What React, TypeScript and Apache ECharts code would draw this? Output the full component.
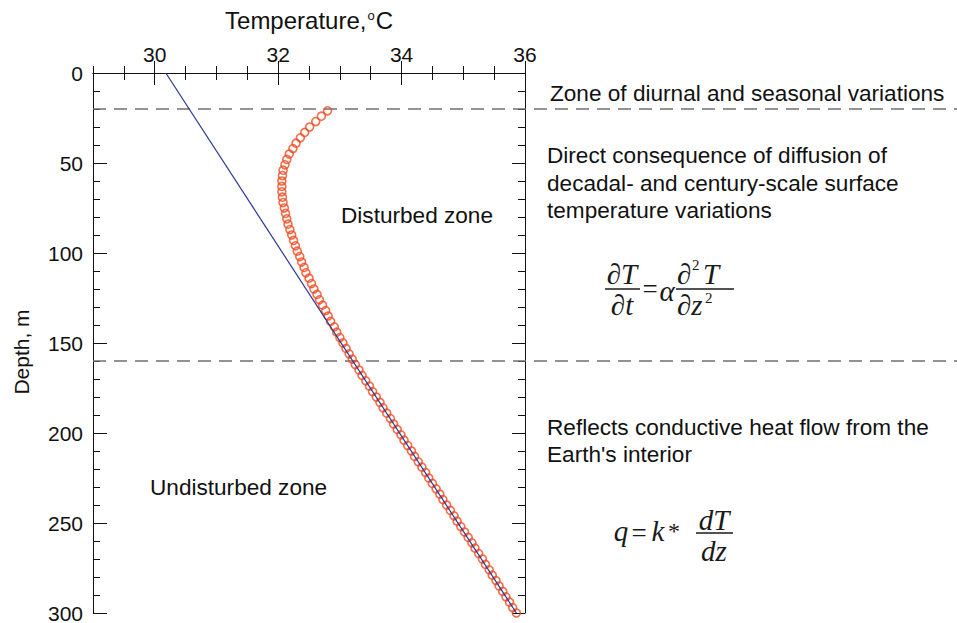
import React, { useEffect, useRef } from "react";
import * as echarts from "echarts";

// Depths (m) of the measured temperature points (red circles)
const depths = [
  21, 24, 27, 30, 33, 36, 39, 42, 45, 48,
  51, 54, 57, 60, 63, 66, 69, 72, 75, 78,
  81, 84, 87, 90, 93, 96, 99, 102, 105, 108,
  111, 114, 117, 120, 123, 126, 129, 132, 135, 138,
  141, 144, 147, 150, 153, 156, 159, 162, 165, 168,
  171, 174, 177, 180, 183, 186, 189, 192, 195, 198,
  201, 204, 207, 210, 213, 216, 219, 222, 225, 228,
  231, 234, 237, 240, 243, 246, 249, 252, 255, 258,
  261, 264, 267, 270, 273, 276, 279, 282, 285, 288,
  291, 294, 297, 300,
];

// Measured temperatures (°C) at those depths
const measuredTemps = [
  32.8, 32.7, 32.61, 32.51, 32.43, 32.36, 32.29, 32.24, 32.18, 32.14,
  32.11, 32.08, 32.07, 32.06, 32.06, 32.06, 32.07, 32.08, 32.1, 32.12,
  32.14, 32.16, 32.19, 32.22, 32.25, 32.28, 32.31, 32.35, 32.38, 32.42,
  32.45, 32.5, 32.54, 32.58, 32.63, 32.67, 32.72, 32.77, 32.81, 32.85,
  32.91, 32.95, 33.0, 33.05, 33.1, 33.15, 33.2, 33.25, 33.31, 33.36,
  33.42, 33.48, 33.53, 33.59, 33.65, 33.7, 33.76, 33.82, 33.87, 33.93,
  33.99, 34.04, 34.1, 34.16, 34.21, 34.27, 34.33, 34.39, 34.44, 34.5,
  34.56, 34.62, 34.67, 34.73, 34.79, 34.85, 34.9, 34.96, 35.02, 35.08,
  35.14, 35.19, 35.25, 35.31, 35.36, 35.42, 35.47, 35.53, 35.58, 35.64,
  35.69, 35.75, 35.8, 35.86,
];

// Undisturbed (conductive) geotherm: end points
const geothermTemps = [30.18, 35.86];
const geothermDepths = [0, 300];

// Zone boundaries (m)
const boundaryDepths = [20, 160];

// Axis ticks
const tempMajorTicks = [30, 32, 34, 36];

export default function App() {
  const ref = useRef<HTMLDivElement>(null);

  useEffect(() => {
    const el = ref.current;
    if (!el) return;
    const chart = echarts.init(el, null, { renderer: "svg" });
    const font = "'Liberation Sans', Arial, Helvetica, sans-serif";
    const serif = "'Liberation Serif', 'Times New Roman', serif";
    const ink = "#111111";

    const axisLineOn = { show: true, lineStyle: { color: ink, width: 1 } };
    const noSplit = { show: false };

    const option: any = {
      animation: false,
      backgroundColor: "#ffffff",
      textStyle: { fontFamily: font, color: ink },
      grid: { left: 93, top: 73, right: 432, bottom: 10, containLabel: false, outerBoundsMode: "none" },
      xAxis: [
        {
          type: "value", position: "top", min: 29, max: 36, interval: 0.5,
          axisLine: axisLineOn,
          axisTick: { inside: true, length: 7, lineStyle: { color: ink } },
          axisLabel: { show: false },
          splitLine: noSplit,
          name: "Temperature,{d|o}C",
          nameLocation: "middle",
          nameGap: 41,
          nameTextStyle: {
            fontSize: 24, color: ink, fontFamily: font,
            rich: { d: { fontSize: 13, color: ink, fontFamily: font, padding: [0, 1, 9, 1] } },
          },
        },
        {
          type: "value", position: "top", min: 29, max: 36,
          axisLine: { show: false },
          axisTick: { inside: true, length: 12, customValues: tempMajorTicks, lineStyle: { color: ink } },
          axisLabel: { customValues: tempMajorTicks, fontSize: 21, color: ink, fontFamily: font, margin: 8 },
          splitLine: noSplit,
        },
        {
          type: "value", position: "bottom", min: 29, max: 36, interval: 0.5,
          axisLine: axisLineOn,
          axisTick: { inside: true, length: 7, lineStyle: { color: ink } },
          axisLabel: { show: false },
          splitLine: noSplit,
        },
        {
          type: "value", position: "bottom", min: 29, max: 36,
          axisLine: { show: false },
          axisTick: { inside: true, length: 12, customValues: tempMajorTicks, lineStyle: { color: ink } },
          axisLabel: { show: false },
          splitLine: noSplit,
        },
      ],
      yAxis: [
        {
          type: "value", position: "left", inverse: true, min: 0, max: 300, interval: 10,
          axisLine: axisLineOn,
          axisTick: { inside: true, length: 7, lineStyle: { color: ink } },
          axisLabel: { show: false },
          splitLine: noSplit,
        },
        {
          type: "value", position: "left", inverse: true, min: 0, max: 300, interval: 50,
          axisLine: { show: false },
          axisTick: { inside: true, length: 14, lineStyle: { color: ink } },
          axisLabel: { fontSize: 21, color: ink, fontFamily: font, margin: 10 },
          splitLine: noSplit,
        },
        {
          type: "value", position: "right", inverse: true, min: 0, max: 300, interval: 10,
          axisLine: axisLineOn,
          axisTick: { inside: true, length: 7, lineStyle: { color: ink } },
          axisLabel: { show: false },
          splitLine: noSplit,
        },
        {
          type: "value", position: "right", inverse: true, min: 0, max: 300, interval: 50,
          axisLine: { show: false },
          axisTick: { inside: true, length: 13, lineStyle: { color: ink } },
          axisLabel: { show: false },
          splitLine: noSplit,
        },
      ],
      series: [
        {
          name: "Conductive geotherm",
          type: "line",
          xAxisIndex: 0,
          yAxisIndex: 0,
          data: geothermTemps.map((t, i) => [t, geothermDepths[i]]),
          showSymbol: false,
          symbol: "none",
          lineStyle: { color: "#2b3897", width: 1.2 },
          z: 3,
        },
        {
          name: "Measured temperature",
          type: "scatter",
          xAxisIndex: 0,
          yAxisIndex: 0,
          data: depths.map((d, i) => [measuredTemps[i], d]),
          symbol: "circle",
          symbolSize: 8,
          itemStyle: { color: "rgba(0,0,0,0)", borderColor: "#f04a20", borderWidth: 1.6 },
          z: 2,
        },
      ],
    };

    chart.setOption(option);

    const leftPx = chart.convertToPixel({ xAxisIndex: 0 }, 29) as number;
    const W = chart.getWidth();

    const txt = (text: string, x: number, y: number, o: any = {}) => ({
      type: "text",
      x,
      y,
      z: 10,
      rotation: o.rotation || 0,
      style: {
        text,
        fill: o.fill || ink,
        font: o.font || `${o.size || 22.6}px ${font}`,
        align: o.align || "left",
        verticalAlign: o.va || "middle",
        textAlign: o.align || "left",
        textVerticalAlign: o.va || "middle",
      },
    });
    const fml = (text: string, x: number, y: number, size = 29, italic = true, align = "center") =>
      txt(text, x, y, { font: `${italic ? "italic " : ""}${size}px ${serif}`, align, fill: "#1a1a1a" });
    const bar = (x1: number, x2: number, y: number) => ({
      type: "line",
      z: 10,
      shape: { x1, y1: y, x2, y2: y },
      style: { stroke: "#1a1a1a", lineWidth: 1.6 },
    });

    const dashed = boundaryDepths.map((d) => {
      const y = chart.convertToPixel({ yAxisIndex: 0 }, d) as number;
      return {
        type: "line",
        z: 1,
        shape: { x1: leftPx, y1: y, x2: W, y2: y },
        style: { stroke: "#707070", lineWidth: 1.5, lineDash: [13, 8] },
      };
    });

    const graphic: any[] = [
      ...dashed,
      txt("Depth, m", 21, 352, { align: "center", rotation: Math.PI / 2, size: 21 }),
      txt("Zone of diurnal and seasonal variations", 550, 93),
      txt("Direct consequence of diffusion of", 547, 155),
      txt("decadal- and century-scale surface", 547, 183),
      txt("temperature variations", 547, 210),
      txt("Reflects conductive heat flow from the", 547, 427),
      txt("Earth's interior", 547, 454),
      txt("Disturbed zone", 341, 215),
      txt("Undisturbed zone", 150, 487),
      // Formula 1: dT/dt = alpha d2T/dz2
      fml("∂T", 622, 274),
      bar(605, 640, 289),
      fml("∂t", 622, 305),
      fml("=", 650, 289, 27, false),
      fml("α", 667, 291),
      fml("∂", 677, 274, 29, true, "left"),
      fml("2", 692, 265, 15, false, "left"),
      fml("T", 703, 274, 29, true, "left"),
      bar(676, 734, 289),
      fml("∂z", 677, 305, 29, true, "left"),
      fml("2", 705, 298, 15, false, "left"),
      // Formula 2: q = k * dT/dz
      fml("q", 621, 531),
      fml("=", 639, 533, 27, false),
      fml("k", 658, 531),
      fml("*", 674, 531, 24, false),
      fml("dT", 714, 520),
      bar(696, 733, 533),
      fml("dz", 714, 551),
    ];

    chart.setOption({ graphic });

    return () => {
      chart.dispose();
    };
  }, []);

  return (
    <div
      ref={ref}
      style={{ position: "absolute", left: 0, top: 0, width: 957, height: 623, background: "#fff" }}
    />
  );
}
